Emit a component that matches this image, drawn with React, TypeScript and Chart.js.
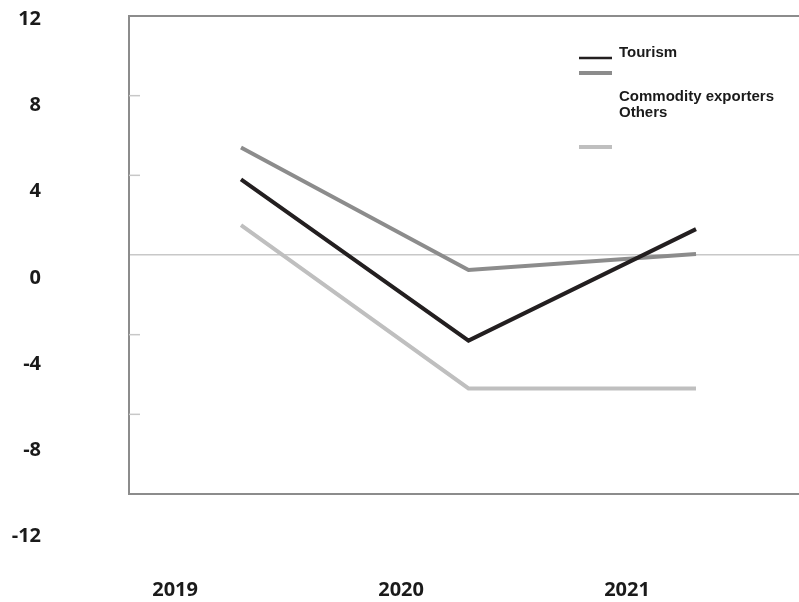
import React, { useEffect, useRef } from "react";
import { Chart, registerables } from "chart.js";

Chart.register(...registerables);

// ---- data ----
const categories = ["2019", "2020", "2021"];
const tourism = [3.8, -4.3, 1.3];
const commodityExporters = [5.4, -0.75, 0.05];
const others = [1.5, -6.7, -6.7];
const yTickValues = [12, 8, 4, 0, -4, -8, -12];
const yearTicks = [2019, 2020, 2021];
const seriesNames = ["Tourism", "Commodity exporters", "Others"];

const BOX = "#8c8c8c";
const LIGHT = "#c8c8c8";
const TEXT = "#1a1a1a";

const toPoints = (arr: number[]) => arr.map((v, i) => ({ x: i, y: v }));

const innerTicksPlugin = {
  id: "innerTicks",
  afterDraw(chart: any) {
    const y = chart.scales.y;
    const area = chart.chartArea;
    const ctx = chart.ctx;
    ctx.save();
    ctx.strokeStyle = LIGHT;
    ctx.lineWidth = 1.5;
    y.ticks.forEach((t: any) => {
      if (t.value === 0 || Math.abs(t.value) === 12) return;
      const py = y.getPixelForValue(t.value);
      ctx.beginPath();
      ctx.moveTo(area.left, py);
      ctx.lineTo(area.left + 11, py);
      ctx.stroke();
    });
    ctx.restore();
  },
};

const customLegendPlugin = {
  id: "customLegend",
  afterDraw(chart: any, _args: any, opts: any) {
    const ctx = chart.ctx;
    ctx.save();
    (opts.entries || []).forEach((e: any, i: number) => {
      const ds = chart.data.datasets[i];
      ctx.strokeStyle = ds.borderColor;
      ctx.lineWidth = e.lineWidth;
      ctx.beginPath();
      ctx.moveTo(opts.lineX0, e.lineY);
      ctx.lineTo(opts.lineX1, e.lineY);
      ctx.stroke();
      ctx.fillStyle = TEXT;
      ctx.font = "bold 15px 'Liberation Sans', Arial, sans-serif";
      ctx.textBaseline = "alphabetic";
      ctx.textAlign = "left";
      ctx.fillText(ds.label, opts.textX, e.textY);
    });
    ctx.restore();
  },
};

export default function App() {
  const ref = useRef<HTMLCanvasElement | null>(null);

  useEffect(() => {
    if (!ref.current) return;
    const chart = new Chart(ref.current, {
      type: "line",
      data: {
        labels: categories,
        datasets: [
          {
            label: seriesNames[0],
            data: toPoints(tourism),
            borderColor: "#231f20",
            borderWidth: 4,
            pointRadius: 0,
            tension: 0,
            xAxisID: "x",
            yAxisID: "y",
          },
          {
            label: seriesNames[1],
            data: toPoints(commodityExporters),
            borderColor: "#8c8c8c",
            borderWidth: 4,
            pointRadius: 0,
            tension: 0,
            xAxisID: "x",
            yAxisID: "y",
          },
          {
            label: seriesNames[2],
            data: toPoints(others),
            borderColor: "#bfbfbf",
            borderWidth: 4,
            pointRadius: 0,
            tension: 0,
            xAxisID: "x",
            yAxisID: "y",
          },
        ],
      },
      options: {
        animation: false,
        responsive: true,
        maintainAspectRatio: false,
        layout: { padding: { top: 16, right: 0, left: 0, bottom: 0 } },
        plugins: {
          legend: { display: false },
          tooltip: { enabled: false },
          customLegend: {
            lineX0: 579,
            lineX1: 612,
            textX: 619,
            entries: [
              { lineY: 58, lineWidth: 2.5, textY: 57 },
              { lineY: 73, lineWidth: 4, textY: 101 },
              { lineY: 147, lineWidth: 4, textY: 117 },
            ],
          },
        } as any,
        scales: {
          x: {
            type: "linear",
            axis: "x",
            position: "bottom",
            display: false,
            min: -0.4923,
            max: 2.4527,
          },
          xl: {
            type: "linear",
            axis: "x",
            position: "bottom",
            min: 2018.796,
            max: 2021.761,
            grid: { display: false },
            border: { display: false },
            ticks: {
              autoSkip: false,
              padding: 76,
              color: TEXT,
              font: { family: "'Open Sans', sans-serif", size: 20, weight: "bold" },
              callback: (v: any) => String(v),
            },
            afterBuildTicks: (s: any) => {
              s.ticks = yearTicks.map((v) => ({ value: v }));
            },
            afterFit: (s: any) => {
              s.height = 108;
              s.paddingLeft = 0;
              s.paddingRight = 0;
            },
          } as any,
          y: {
            type: "linear",
            axis: "y",
            position: "left",
            weight: 0,
            min: -12,
            max: 12,
            ticks: { display: false, stepSize: 4 },
            grid: {
              drawTicks: false,
              color: (c: any) =>
                c.tick && Math.abs(c.tick.value) === 12
                  ? BOX
                  : c.tick && c.tick.value === 0
                  ? LIGHT
                  : "rgba(0,0,0,0)",
              lineWidth: (c: any) =>
                c.tick && Math.abs(c.tick.value) === 12 ? 2 : 1.5,
            },
            border: { display: true, color: BOX, width: 2 },
            afterFit: (s: any) => {
              s.width = 0;
              s.paddingTop = 0;
              s.paddingBottom = 0;
            },
          } as any,
          yl: {
            type: "linear",
            axis: "y",
            position: "left",
            weight: 1,
            min: -10.03,
            max: 12.16,
            grid: { display: false, drawTicks: false },
            border: { display: false },
            ticks: {
              autoSkip: false,
              padding: 88,
              color: TEXT,
              font: { family: "'Open Sans', sans-serif", size: 20, weight: "bold" },
              callback: (v: any) => String(v),
            },
            afterBuildTicks: (s: any) => {
              s.ticks = yTickValues.map((v) => ({ value: v }));
            },
            afterFit: (s: any) => {
              s.width = 129;
              s.paddingTop = 0;
              s.paddingBottom = 0;
            },
          } as any,
        },
      },
      plugins: [innerTicksPlugin, customLegendPlugin],
    });
    return () => chart.destroy();
  }, []);

  return (
    <div
      style={{
        position: "absolute",
        left: 0,
        top: 0,
        width: 799,
        height: 602,
        background: "#ffffff",
      }}
    >
      <canvas ref={ref} />
    </div>
  );
}
